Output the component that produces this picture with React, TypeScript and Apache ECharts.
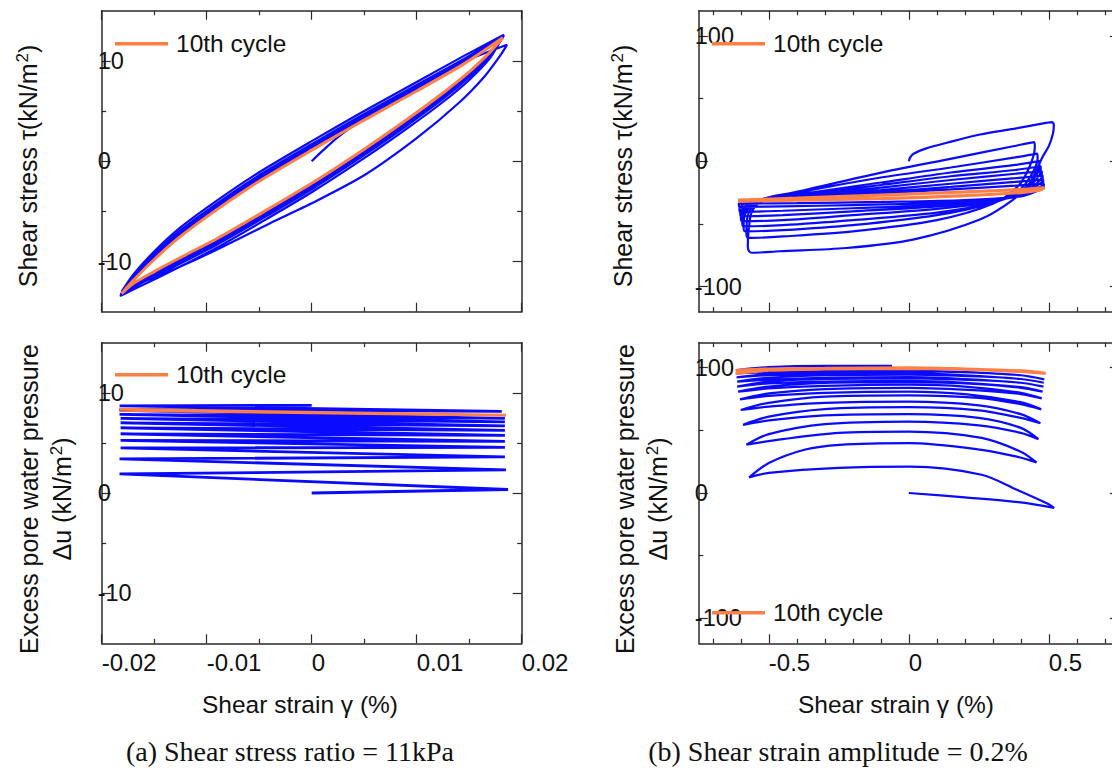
import React, { useEffect, useRef } from 'react';
import * as echarts from 'echarts';

type P = [number, number];

// ---------- axis ticks / ranges ----------
const strainRangeA: P = [-0.02, 0.02];
const strainMajorA = [-0.02, -0.01, 0, 0.01, 0.02];
const strainMinorA = [-0.015, -0.005, 0.005, 0.015];
const stressRangeA: P = [-15, 15];
const yMajorA = [-10, 0, 10];
const yMinorA = [-5, 5];

const strainRangeB: P = [-0.75, 0.75];
const strainMajorB = [-0.5, 0, 0.5];
const strainMinorB = [-0.7, -0.6, -0.4, -0.3, -0.2, -0.1, 0.1, 0.2, 0.3, 0.4, 0.6, 0.7];
const stressRangeB: P = [-120, 120];
const yMajorB = [-100, 0, 100];
const yMinorB = [-50, 50];

// ---------- (a) shear stress vs strain ----------
const aStressBlue: P[] = [
  // first loading from the origin
  [0, 0], [0.001, 1.0], [0.0025, 2.4], [0.005, 4.3], [0.01, 7.3], [0.0145, 9.9], [0.0186, 11.6],
  // first unloading (outermost lower branch)
  [0.018, 10.6], [0.0165, 8.5], [0.014, 5.8], [0.01, 2.3], [0.005, -1.4], [0, -4.2], [-0.004, -6.2], [-0.009, -8.8], [-0.0125, -10.5], [-0.015, -11.6], [-0.017, -12.4], [-0.0181, -13.0],
  // reloading / unloading cycles
  [-0.017, -11.3], [-0.015, -9.0], [-0.0125, -6.6], [-0.009, -3.9], [-0.005, -1.1], [0, 2.0], [0.005, 5.0], [0.01, 7.9], [0.0145, 10.5], [0.0183, 12.6],
  [0.017, 10.3], [0.015, 8.1], [0.0125, 5.9], [0.009, 3.2], [0.005, 0.3], [0, -3.1], [-0.005, -6.2], [-0.009, -8.6], [-0.0125, -10.5], [-0.015, -11.8], [-0.017, -12.8], [-0.0182, -13.4],
  [-0.017, -11.5], [-0.015, -9.3], [-0.0125, -6.9], [-0.009, -4.2], [-0.005, -1.4], [0, 1.7], [0.005, 4.7], [0.01, 7.6], [0.0145, 10.2], [0.0183, 12.5],
  [0.017, 10.5], [0.015, 8.4], [0.0125, 6.2], [0.009, 3.5], [0.005, 0.6], [0, -2.8], [-0.005, -5.9], [-0.009, -8.3], [-0.0125, -10.2], [-0.015, -11.5], [-0.017, -12.6], [-0.0182, -13.3],
  [-0.017, -11.6], [-0.015, -9.5], [-0.0125, -7.1], [-0.009, -4.4], [-0.005, -1.6], [0, 1.5], [0.005, 4.5], [0.01, 7.4], [0.0145, 10.0], [0.0182, 12.4],
  [0.017, 10.7], [0.015, 8.6], [0.0125, 6.4], [0.009, 3.7], [0.005, 0.8], [0, -2.6], [-0.005, -5.7], [-0.009, -8.1], [-0.0125, -10.0], [-0.015, -11.3], [-0.017, -12.4], [-0.0182, -13.3],
  [-0.017, -11.8], [-0.015, -9.6], [-0.0125, -7.3], [-0.009, -4.6], [-0.005, -1.8], [0, 1.3], [0.005, 4.3], [0.01, 7.2], [0.0145, 9.8], [0.0182, 12.3],
  [0.017, 10.8], [0.015, 8.7], [0.0125, 6.6], [0.009, 3.9], [0.005, 1.0], [0, -2.4], [-0.005, -5.5], [-0.009, -7.9], [-0.0125, -9.8], [-0.015, -11.2], [-0.017, -12.3], [-0.0181, -13.2],
];
const aStressTenth: P[] = [
  [-0.0181, -13.2], [-0.017, -11.9], [-0.015, -9.8], [-0.0125, -7.5], [-0.009, -4.8], [-0.005, -2.0], [0, 1.1], [0.005, 4.1], [0.01, 7.0], [0.0145, 9.7], [0.0182, 12.3],
  [0.017, 10.9], [0.015, 8.9], [0.0125, 6.8], [0.009, 4.1], [0.005, 1.2], [0, -2.2], [-0.005, -5.3], [-0.009, -7.7], [-0.0125, -9.6], [-0.015, -11.0], [-0.017, -12.2], [-0.0181, -13.2],
];

// ---------- (a) excess pore water pressure vs strain ----------
const aPoreBlue: P[] = [
  [0, 0], [0.0187, 0.35], [-0.0183, 1.9], [0.0185, 2.3], [-0.0183, 3.4], [0.0184, 3.6], [-0.0182, 4.5],
  [0.0184, 4.55], [-0.0182, 5.25], [0.0184, 5.15], [-0.0182, 5.9], [0.0184, 5.75], [-0.0182, 6.5],
  [0.0184, 6.25], [-0.0182, 7.0], [0.0184, 6.7], [-0.0182, 7.45], [0.0184, 7.1], [-0.0183, 7.85],
  [0.0184, 7.45], [-0.0183, 8.25],
];
const aPoreTail: P[] = [[-0.0183, 8.35], [0.0181, 8.15], [-0.0183, 8.7], [0, 8.75]];
const aPoreTenth: P[] = [[-0.0183, 8.25], [0.0185, 7.75], [-0.0183, 8.35]];

// ---------- (b) shear stress vs strain ----------
const bStressBlue: P[] = [
  [0, 0], [0.005, 3], [0.017, 6], [0.06, 10], [0.136, 14.7], [0.255, 21.3], [0.374, 25.8], [0.49, 30.5], [0.512, 31.2],
  [0.518, 29], [0.515, 22], [0.5, 12], [0.479, 4], [0.432, -17.3], [0.373, -30.6], [0.254, -46.5], [0.015, -62.5], [-0.223, -69.2], [-0.461, -71.8], [-0.56, -73], [-0.57, -72],
  [-0.575, -68], [-0.572, -55], [-0.56, -40], [-0.52, -31], [-0.45, -27], [-0.364, -22.6], [-0.103, -9.3], [0.135, 1.3], [0.373, 11.9], [0.448, 15.2],
  [0.45, 11], [0.43, -5], [0.39, -20], [0.3, -34], [0.1, -47], [-0.2, -56], [-0.45, -60], [-0.573, -61.2],
  [-0.58, -57], [-0.57, -40], [-0.52, -30], [-0.35, -23], [-0.1, -13], [0.15, -5], [0.38, 3], [0.459, 6.1],
  [0.46, 2], [0.44, -10], [0.4, -22], [0.3, -33], [0.1, -43], [-0.2, -51], [-0.45, -55], [-0.585, -55.9],
  [-0.59, -52], [-0.58, -40], [-0.53, -31], [-0.35, -25], [-0.1, -17], [0.15, -9], [0.38, -3], [0.466, 0],
  [0.466, -4], [0.45, -13], [0.4, -24], [0.3, -33], [0.1, -41], [-0.2, -47], [-0.45, -51], [-0.591, -51.9],
  [-0.595, -48], [-0.58, -38], [-0.53, -31], [-0.35, -26], [-0.1, -19], [0.15, -12], [0.38, -7], [0.471, -4],
  [0.471, -8], [0.45, -16], [0.4, -25], [0.3, -32], [0.1, -38], [-0.2, -43], [-0.45, -47], [-0.596, -47.9],
  [-0.6, -44], [-0.58, -36], [-0.53, -31], [-0.35, -27], [-0.1, -21], [0.15, -15], [0.38, -10], [0.475, -8],
  [0.475, -12], [0.45, -19], [0.4, -26], [0.3, -31], [0.1, -36], [-0.2, -40], [-0.45, -43], [-0.6, -43.9],
  [-0.602, -41], [-0.58, -35], [-0.53, -31], [-0.35, -27.5], [-0.1, -23], [0.15, -18], [0.38, -13.5], [0.478, -11.5],
  [0.478, -15], [0.45, -21], [0.4, -27], [0.3, -31], [0.1, -35], [-0.2, -37.5], [-0.45, -39.5], [-0.603, -40.5],
  [-0.605, -38], [-0.58, -33], [-0.53, -31], [-0.35, -28], [-0.1, -24.5], [0.15, -20.5], [0.38, -16.5], [0.48, -14.7],
  [0.48, -18], [0.45, -23], [0.4, -27.5], [0.3, -31], [0.1, -33.5], [-0.2, -35], [-0.45, -36], [-0.606, -36.5],
  [-0.607, -34], [-0.58, -31.5], [-0.35, -28.5], [-0.1, -25.5], [0.15, -22.5], [0.38, -19.5], [0.482, -17.9],
  [0.482, -20.5], [0.45, -24.5], [0.4, -28], [0.2, -31], [-0.1, -32.5], [-0.4, -33.5], [-0.608, -33.8],
];
const bStressTenth: P[] = [
  [-0.61, -31], [-0.4, -29.5], [-0.1, -27], [0.2, -24.5], [0.4, -22.5], [0.484, -21.2],
  [0.47, -23], [0.4, -25], [0.2, -27.5], [-0.1, -29.8], [-0.4, -31], [-0.61, -32],
];

// ---------- (b) excess pore water pressure vs strain ----------
const bPoreBlue: P[] = [
  [0, 0], [0.2, -3.5], [0.4, -7.5], [0.519, -11.9],
  [0.5, -9], [0.386, 2.6], [0.26, 14.6], [0.006, 21], [-0.25, 20], [-0.5, 16], [-0.57, 12.5],
  [-0.5, 23.9], [-0.373, 34.5], [-0.247, 38.5], [0, 39.8], [0.26, 34.5], [0.386, 29], [0.456, 24.4],
  [0.4, 33], [0.26, 44], [0, 49], [-0.25, 48], [-0.45, 43], [-0.58, 38.5],
  [-0.5, 47], [-0.3, 55], [0, 57], [0.25, 54], [0.4, 48], [0.463, 43],
  [0.4, 52], [0.25, 60], [0, 63], [-0.3, 62], [-0.5, 58], [-0.592, 54.4],
  [-0.5, 61], [-0.3, 67], [0, 68.5], [0.25, 66], [0.4, 60], [0.47, 55.7],
  [0.4, 63], [0.25, 70], [0, 73], [-0.3, 72], [-0.5, 69], [-0.6, 66.3],
  [-0.5, 72], [-0.3, 77], [0, 78], [0.25, 76], [0.4, 71], [0.473, 66.8],
  [0.4, 72.5], [0.2, 79], [0, 81], [-0.3, 80], [-0.5, 77.5], [-0.603, 74.8],
  [-0.5, 79.5], [-0.3, 83], [0, 84], [0.25, 82], [0.4, 79], [0.475, 75.6],
  [0.4, 80], [0.2, 85], [0, 86.5], [-0.3, 85.5], [-0.5, 83.5], [-0.61, 80.9],
  [-0.5, 85], [-0.3, 88], [0, 88.5], [0.25, 87], [0.4, 84], [0.478, 80.9],
  [0.4, 84.5], [0.2, 88], [0, 89.5], [-0.3, 89], [-0.5, 87.5], [-0.613, 84.9],
  [-0.5, 89], [-0.3, 91], [0, 91.5], [0.25, 90], [0.4, 88], [0.481, 84.9],
  [0.4, 88], [0.2, 91], [0, 92.5], [-0.3, 92], [-0.5, 90.5], [-0.613, 88.9],
  [-0.5, 92], [-0.3, 94], [0, 94.5], [0.25, 93], [0.4, 91], [0.482, 88],
  [0.4, 91], [0.2, 94], [0, 95.5], [-0.3, 95], [-0.5, 94], [-0.615, 92.3],
  [-0.5, 95], [-0.3, 96.5], [0, 97], [0.25, 96], [0.4, 94], [0.484, 90.7],
  [0.4, 94], [0.2, 96.5], [0, 97.5], [-0.3, 97.5], [-0.5, 96.5], [-0.618, 95.5],
];
const bPoreTail: P[] = [[-0.618, 98], [-0.5, 100.5], [-0.3, 101.5], [-0.06, 101.5]];
const bPoreTenth: P[] = [
  [-0.618, 95.5], [-0.5, 98], [-0.3, 99], [0, 99.5], [0.25, 98.5], [0.4, 97], [0.489, 95.5],
  [0.4, 97.5], [0.2, 99], [0, 100], [-0.3, 99.5], [-0.5, 99], [-0.618, 98],
];

// ---------- texts ----------
const legendName = '10th cycle';
const stressTitle = '{a|Shear stress τ(kN/m}{s|2}{a|)}';
const poreTitle = '{a|Excess pore water pressure}\n{a|Δu (kN/m}{s|2}{a|)}';
const strainTitle = 'Shear strain γ (%)';
const captionA = '(a) Shear stress ratio = 11kPa';
const captionB = '(b) Shear strain amplitude = 0.2%';

const FONT = '"Liberation Sans", Arial, sans-serif';
const SERIF = '"Liberation Serif", "Times New Roman", serif';
const AXIS = '#2a2a2a';
const BLUE = '#0a0aff';
const ORANGE = '#ff7f45';

export default function App() {
  const ref = useRef<HTMLDivElement>(null);

  useEffect(() => {
    if (!ref.current) return;
    document.body.style.margin = '0';
    const chart = echarts.init(ref.current, undefined, { renderer: 'svg' });

    const grids = [
      { left: 101.7, top: 10.7, width: 420, height: 301 },
      { left: 101.7, top: 342.7, width: 420, height: 300.6 },
      { left: 698.8, top: 10.7, width: 420, height: 301 },
      { left: 698.8, top: 342.7, width: 420, height: 300.6 },
    ];
    const spec = [
      { xr: strainRangeA, xM: strainMajorA, xm: strainMinorA, yr: stressRangeA, yM: yMajorA, ym: yMinorA, xl: false },
      { xr: strainRangeA, xM: strainMajorA, xm: strainMinorA, yr: stressRangeA, yM: yMajorA, ym: yMinorA, xl: true },
      { xr: strainRangeB, xM: strainMajorB, xm: strainMinorB, yr: stressRangeB, yM: yMajorB, ym: yMinorB, xl: false },
      { xr: strainRangeB, xM: strainMajorB, xm: strainMinorB, yr: stressRangeB, yM: yMajorB, ym: yMinorB, xl: true },
    ];

    const xAxis: any[] = [];
    const yAxis: any[] = [];
    const mainX: number[] = [];
    const mainY: number[] = [];

    const mk = (gi: number, pos: string, r: P, vals: number[], len: number, line: boolean, label: any) => ({
      type: 'value',
      gridIndex: gi,
      position: pos,
      min: r[0],
      max: r[1],
      splitLine: { show: false },
      axisLine: { show: line, onZero: false, lineStyle: { color: AXIS, width: 1.5 } },
      axisTick: { show: true, inside: true, length: len, customValues: vals, lineStyle: { color: AXIS, width: 1.2 } },
      axisLabel: label || { show: false },
      axisPointer: { show: false },
    });

    spec.forEach((s, gi) => {
      const xLabel = s.xl
        ? {
            show: true,
            customValues: s.xM,
            align: 'left',
            margin: 7,
            fontSize: 24,
            fontFamily: FONT,
            color: '#111',
            formatter: (v: number) => String(v),
          }
        : null;
      const yLabel = {
        show: true,
        customValues: s.yM,
        align: 'left',
        verticalAlign: 'middle',
        margin: 4,
        fontSize: 23.5,
        fontFamily: FONT,
        color: '#111',
        formatter: (v: number) => String(v),
      };
      mainX.push(xAxis.length);
      xAxis.push(mk(gi, 'bottom', s.xr, s.xM, 9, true, xLabel));
      xAxis.push(mk(gi, 'bottom', s.xr, s.xm, 4.5, false, null));
      xAxis.push(mk(gi, 'top', s.xr, s.xM, 9, true, null));
      xAxis.push(mk(gi, 'top', s.xr, s.xm, 4.5, false, null));
      mainY.push(yAxis.length);
      yAxis.push(mk(gi, 'left', s.yr, s.yM, 9, true, yLabel));
      yAxis.push(mk(gi, 'left', s.yr, s.ym, 4.5, false, null));
      yAxis.push(mk(gi, 'right', s.yr, s.yM, 9, true, null));
      yAxis.push(mk(gi, 'right', s.yr, s.ym, 4.5, false, null));
    });

    const line = (gi: number, name: string, data: P[], color: string, width: number, smooth: number | boolean) => ({
      type: 'line',
      name,
      xAxisIndex: mainX[gi],
      yAxisIndex: mainY[gi],
      data,
      showSymbol: false,
      symbol: 'none',
      smooth,
      color,
      lineStyle: { color, width },
      itemStyle: { color },
      silent: true,
      clip: true,
    });

    const series = [
      line(0, 'loops a', aStressBlue, BLUE, 2.2, 0.25),
      line(0, legendName, aStressTenth, ORANGE, 3, 0.25),
      line(1, 'pore a', aPoreBlue, BLUE, 2.8, false),
      line(1, 'pore a tail', aPoreTail, BLUE, 2.8, false),
      line(1, legendName, aPoreTenth, ORANGE, 3, false),
      line(2, 'loops b', bStressBlue, BLUE, 2.2, 0.3),
      line(2, legendName, bStressTenth, ORANGE, 3.2, 0.3),
      line(3, 'pore b', bPoreBlue, BLUE, 2.2, 0.3),
      line(3, 'pore b tail', bPoreTail, BLUE, 2.2, 0.3),
      line(3, legendName, bPoreTenth, ORANGE, 3.2, 0.3),
    ];

    const legendPos: P[] = [
      [115, 31.3],
      [115, 362.3],
      [712, 31.3],
      [712, 600.3],
    ];
    const legend = legendPos.map(([l, t]) => ({
      data: [legendName],
      left: l,
      top: t,
      padding: 0,
      icon: 'rect',
      itemWidth: 53,
      itemHeight: 3.5,
      selectedMode: false,
      itemStyle: { color: ORANGE },
      textStyle: { fontSize: 24.5, fontFamily: FONT, color: '#111', padding: [0, 0, 0, 3] },
    }));

    const rich = {
      a: { fontSize: 25, fontFamily: FONT, fill: '#111', lineHeight: 33 },
      s: { fontSize: 17, fontFamily: FONT, fill: '#111', lineHeight: 33, padding: [0, 0, 12, 1] },
    };
    const vText = (x: number, y: number, text: string) => ({
      type: 'text',
      x,
      y,
      rotation: Math.PI / 2,
      silent: true,
      style: {
        text,
        rich,
        fill: '#111',
        fontSize: 25,
        fontFamily: FONT,
        align: 'center',
        verticalAlign: 'middle',
        lineHeight: 33,
      },
    });
    const hText = (x: number, y: number, text: string, size: number, family: string) => ({
      type: 'text',
      x,
      y,
      silent: true,
      style: { text, fill: '#111', fontSize: size, fontFamily: family, align: 'center', verticalAlign: 'middle' },
    });

    const graphic = [
      vText(28, 166, stressTitle),
      vText(623, 166, stressTitle),
      vText(45.5, 499, poreTitle),
      vText(641.5, 499, poreTitle),
      hText(300, 704, strainTitle, 24.5, FONT),
      hText(896, 704, strainTitle, 24.5, FONT),
      hText(290, 751, captionA, 28, SERIF),
      hText(838, 751, captionB, 28, SERIF),
    ];

    chart.setOption({
      animation: false,
      backgroundColor: '#ffffff',
      grid: grids.map((g) => ({ ...g, containLabel: false, outerBoundsMode: 'none' })),
      xAxis,
      yAxis,
      series,
      legend,
      graphic,
      tooltip: { show: false },
    });

    return () => chart.dispose();
  }, []);

  return <div ref={ref} style={{ width: 1112, height: 772, background: '#fff' }} />;
}
